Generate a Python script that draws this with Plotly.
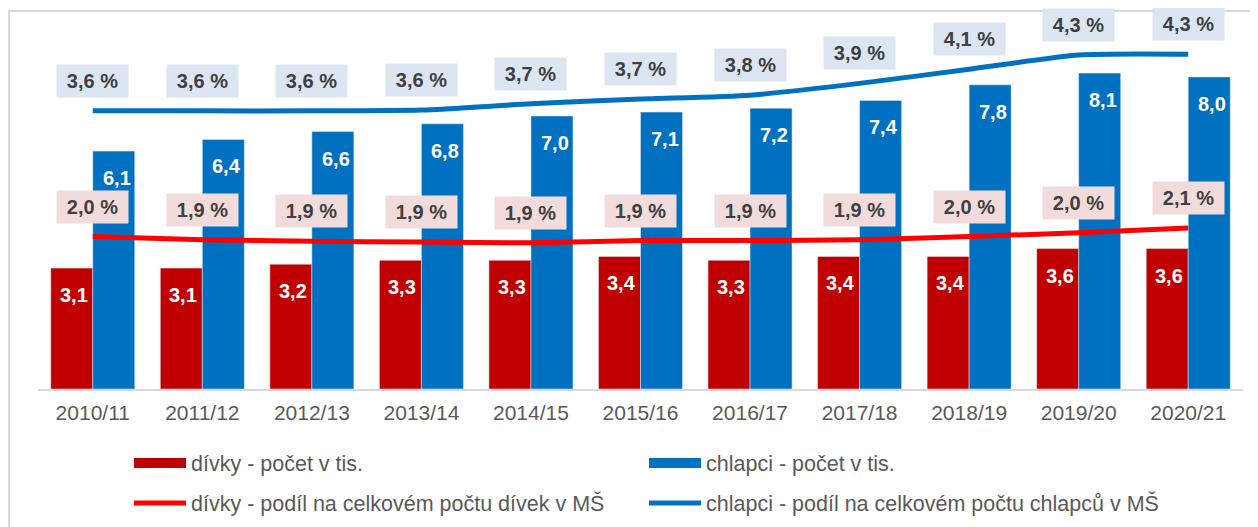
import plotly.graph_objects as go

years = ["2010/11", "2011/12", "2012/13", "2013/14", "2014/15", "2015/16",
         "2016/17", "2017/18", "2018/19", "2019/20", "2020/21"]
girls_count = [3.1, 3.1, 3.2, 3.3, 3.3, 3.4, 3.3, 3.4, 3.4, 3.6, 3.6]
boys_count = [6.1, 6.4, 6.6, 6.8, 7.0, 7.1, 7.2, 7.4, 7.8, 8.1, 8.0]
girls_share = [1.99, 1.95, 1.93, 1.92, 1.91, 1.94, 1.94, 1.95, 1.99, 2.04, 2.10]
boys_share = [3.59, 3.59, 3.59, 3.60, 3.68, 3.74, 3.79, 3.94, 4.12, 4.30, 4.31]

names = ["dívky - počet v tis.", "chlapci - počet v tis.",
         "dívky - podíl na celkovém počtu dívek v MŠ",
         "chlapci - podíl na celkovém počtu chlapců v MŠ"]

RED_BAR = "#C00000"
BLUE = "#0070C0"
RED_LINE = "#FF0000"
FONT = "Arial, Liberation Sans, sans-serif"

def fmt(v):
    return f"{v:.1f}".replace(".", ",")

fig = go.Figure()
fig.add_trace(go.Bar(x=years, y=girls_count, marker_color=RED_BAR, name=names[0],
                     showlegend=False, yaxis="y"))
fig.add_trace(go.Bar(x=years, y=boys_count, marker_color=BLUE, name=names[1],
                     showlegend=False, yaxis="y"))
fig.add_trace(go.Scatter(x=years, y=girls_share, mode="lines", name=names[2],
                         line=dict(color=RED_LINE, width=5, shape="spline", smoothing=0.6),
                         yaxis="y2", showlegend=False))
fig.add_trace(go.Scatter(x=years, y=boys_share, mode="lines", name=names[3],
                         line=dict(color=BLUE, width=5, shape="spline", smoothing=0.6),
                         yaxis="y2", showlegend=False))

# legend entries (one legend per entry so each can be placed freely)
legend_colors = [RED_BAR, BLUE, RED_LINE, BLUE]
legend_widths = [11, 11, 5, 5]
legend_ids = ["legend", "legend2", "legend3", "legend4"]
for nm, col, wd, lid in zip(names, legend_colors, legend_widths, legend_ids):
    fig.add_trace(go.Scatter(x=[None], y=[None], mode="lines", name=nm,
                             line=dict(color=col, width=wd), legend=lid))

annotations = []
for yr, v in zip(years, girls_count):
    annotations.append(dict(x=yr, y=v, xref="x", yref="y", text=fmt(v), showarrow=False,
                            yanchor="top", yshift=-14, xshift=-19,
                            font=dict(family=FONT, size=20, color="white", weight="bold")))
for yr, v in zip(years, boys_count):
    annotations.append(dict(x=yr, y=v, xref="x", yref="y", text=fmt(v), showarrow=False,
                            yanchor="top", yshift=-14, xshift=24,
                            font=dict(family=FONT, size=20, color="white", weight="bold")))
for yr, v in zip(years, girls_share):
    annotations.append(dict(x=yr, y=v, xref="x", yref="y2", text=fmt(v) + " %", showarrow=False,
                            yshift=30, bgcolor="#F2DCDB", borderpad=5, width=61, height=22,
                            font=dict(family=FONT, size=20, color="#404040", weight="bold")))
for yr, v in zip(years, boys_share):
    annotations.append(dict(x=yr, y=v, xref="x", yref="y2", text=fmt(v) + " %", showarrow=False,
                            yshift=30, bgcolor="#DCE6F2", borderpad=5, width=61, height=22,
                            font=dict(family=FONT, size=20, color="#404040", weight="bold")))

OFF = 8  # page body margin
W, H = 1258 - OFF, 527 - OFF
L, R = 38 - OFF, 1258 - 1243
T = 20 - OFF
PLOT_BOTTOM = 389 - OFF
B = H - PLOT_BOTTOM
pw, ph = W - L - R, H - T - B

def px2x(px):
    return (px - OFF - L) / pw

def py2y(py):
    return (PLOT_BOTTOM - (py - OFF)) / ph

def cx(px):
    return (px - OFF) / W

def cy(py):
    return 1 - (py - OFF) / H

legend_common = dict(orientation="h", xanchor="left", yanchor="middle",
                     xref="container", yref="container", itemwidth=52,
                     bgcolor="rgba(0,0,0,0)",
                     font=dict(size=21.5, color="#595959"))
legend_pos = [(129, 463), (644, 463), (129, 503), (644, 503)]

layout_legends = {lid: dict(x=cx(px), y=cy(py), **legend_common)
                  for lid, (px, py) in zip(legend_ids, legend_pos)}

fig.update_layout(
    width=W, height=H,
    margin=dict(l=L, r=R, t=T, b=B, autoexpand=False),
    plot_bgcolor="white", paper_bgcolor="white",
    barmode="group", bargap=0.233, bargroupgap=0,
    font=dict(family=FONT, color="#595959"),
    xaxis=dict(type="category", showline=True, linecolor="#D9D9D9", linewidth=1.5,
               ticks="", showgrid=False, tickfont=dict(size=21, color="#595959"),
               ticklabelstandoff=4),
    yaxis=dict(range=[0, ph / 39.0], visible=False),
    yaxis2=dict(range=[0.05, 0.05 + ph / 78.57], overlaying="y", visible=False),
    annotations=annotations,
    shapes=[dict(type="rect", xref="paper", yref="paper",
                 x0=px2x(9), x1=px2x(1300), y0=py2y(600), y1=py2y(11),
                 line=dict(color="#D9D9D9", width=2), layer="below")],
    **layout_legends,
)

fig.write_html("out.html")
